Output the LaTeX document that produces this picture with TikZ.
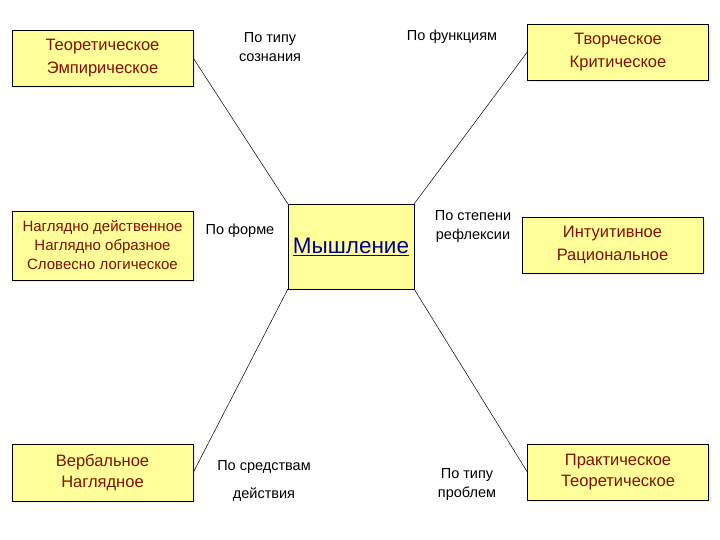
\documentclass[tikz,border=0pt]{standalone}
\usepackage{fontspec}
\setmainfont{Liberation Sans}
\usetikzlibrary{positioning,shadows}
\definecolor{paleyellow}{RGB}{255,255,153}
\definecolor{maroon}{RGB}{128,16,0}
\definecolor{navy}{RGB}{0,0,140}
\tikzset{
  kind/.style={draw=black,fill=paleyellow,text=maroon,inner sep=0pt,
    minimum width=181pt,minimum height=56pt,align=center,
    font=\fontsize{16.5}{23}\selectfont,
    drop shadow={opacity=0.15,shadow xshift=2pt,shadow yshift=-2pt}},
  core/.style={draw=black,fill=paleyellow,text=navy,inner sep=0pt,
    minimum width=126pt,minimum height=85pt,font=\fontsize{22.5}{26}\selectfont},
  tag/.style={font=\fontsize{14.5}{19}\selectfont,align=center},
  link/.style={draw=black,line width=0.5pt},
}

\begin{document}
\begin{tikzpicture}[x=1pt,y=-1pt]
  \useasboundingbox (0,0) rectangle (720,540);
  % centre
  \node[core] (think) at (351,246.5) {\underline{Мышление}};
  % kinds
  \node[kind] (tl) at (102.5,58) {Теоретическое\\Эмпирическое};
  \node[kind] (tr) at (618,52) {Творческое\\Критическое};
  \node[kind,minimum height=69pt,font=\fontsize{15}{19}\selectfont] (ml) at (102.5,245.5)
    {Наглядно действенное\\Наглядно образное\\Словесно логическое};
  \node[kind] (mr) at (612.5,245) {Интуитивное\\Рациональное};
  \node[kind,minimum height=57pt,font=\fontsize{16.5}{21}\selectfont] (bl) at (102.5,472.5) {Вербальное\\Наглядное};
  \node[kind,font=\fontsize{16.5}{21}\selectfont] (br) at (618,472) {Практическое\\Теоретическое};
  % criteria
  \node[tag] (consc) at (270,47) {По типу\\сознания};
  \node[tag] (func) at (452,37) {По функциям};
  \node[tag] (form) at (240,231) {По форме};
  \node[tag] (refl) at (473,227) {По степени\\рефлексии};
  \node[tag] (means) at (264,481) {По средствам\\[9pt]действия};
  \node[tag] (probl) at (467,485) {По типу\\проблем};
  % links
  \draw[link] (tl.east) -- (think.north west);
  \draw[link] (tr.west) -- (think.north east);
  \draw[link] (bl.east) -- (think.south west);
  \draw[link] (br.west) -- (think.south east);
\end{tikzpicture}
\end{document}
